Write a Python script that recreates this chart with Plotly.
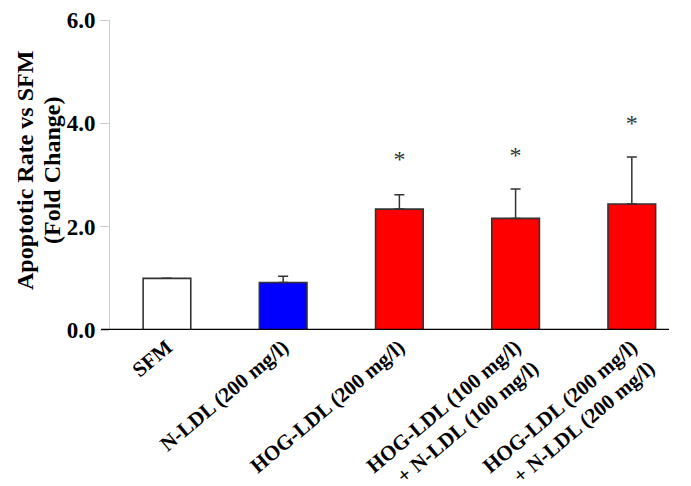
import plotly.graph_objects as go

categories = ["SFM", "N-LDL (200 mg/l)", "HOG-LDL (200 mg/l)",
              "HOG-LDL (100 mg/l)<br>+ N-LDL (100 mg/l)",
              "HOG-LDL (200 mg/l)<br>+ N-LDL (200 mg/l)"]
values = [1.0, 0.92, 2.34, 2.16, 2.44]
errors = [0.0, 0.12, 0.28, 0.57, 0.91]
colors = ["#ffffff", "#0000ff", "#ff0000", "#ff0000", "#ff0000"]
star_y = [None, None, 3.27, 3.35, 3.97]
star_text = ["", "", "*", "*", "*"]
y_ticks = [0, 2, 4, 6]
y_ticklabels = ["0.0", "2.0", "4.0", "6.0"]
y_title_lines = ["Apoptotic Rate vs SFM", "(Fold Change)"]

xs = list(range(len(categories)))
font_family = "Liberation Serif"

fig = go.Figure()
fig.add_trace(go.Bar(
    x=xs, y=values, width=0.41,
    marker=dict(color=colors, line=dict(color="#333333", width=1.6)),
    error_y=dict(type="data", array=errors, symmetric=False, arrayminus=[0]*5,
                 color="#333333", thickness=1.5, width=5),
    showlegend=False,
))
fig.add_trace(go.Scatter(
    x=xs, y=star_y, mode="text", text=star_text,
    textposition="middle center",
    textfont=dict(family=font_family, size=24, color="#333333"),
    showlegend=False, hoverinfo="skip",
))

fig.update_layout(
    width=691, height=486,
    margin=dict(l=110, r=22, t=20, b=156),
    paper_bgcolor="white", plot_bgcolor="white",
    font=dict(family=font_family, color="black"),
)
fig.update_xaxes(
    range=[-0.49, 4.32], tickmode="array", tickvals=xs, ticktext=categories,
    tickangle=-40, tickfont=dict(family=font_family, size=21, color="black", weight="bold"),
    showline=False, showgrid=False, zeroline=False, ticks="", automargin=False,
)
fig.update_yaxes(
    range=[0, 6], tickmode="array", tickvals=y_ticks, ticktext=y_ticklabels,
    tickfont=dict(family=font_family, size=23, color="black", weight="bold"),
    showline=True, linecolor="#cccccc", linewidth=1,
    ticks="outside", ticklen=9, tickcolor="#cccccc", tickwidth=1,
    showgrid=False, zeroline=False, automargin=False,
)
for line, shift in zip(y_title_lines, [-85, -58]):
    fig.add_annotation(
        text=line, xref="paper", yref="paper", x=0, y=0.513,
        xanchor="center", yanchor="middle", xshift=shift, textangle=-90,
        showarrow=False,
        font=dict(family=font_family, size=24, color="black", weight="bold"),
    )
fig.add_shape(type="line", xref="paper", yref="y", x0=-0.016, x1=1.0, y0=0, y1=0,
              line=dict(color="black", width=2.5))

fig.write_html("out.html", config={"displayModeBar": False},
               post_script="document.body.style.margin='0';")
